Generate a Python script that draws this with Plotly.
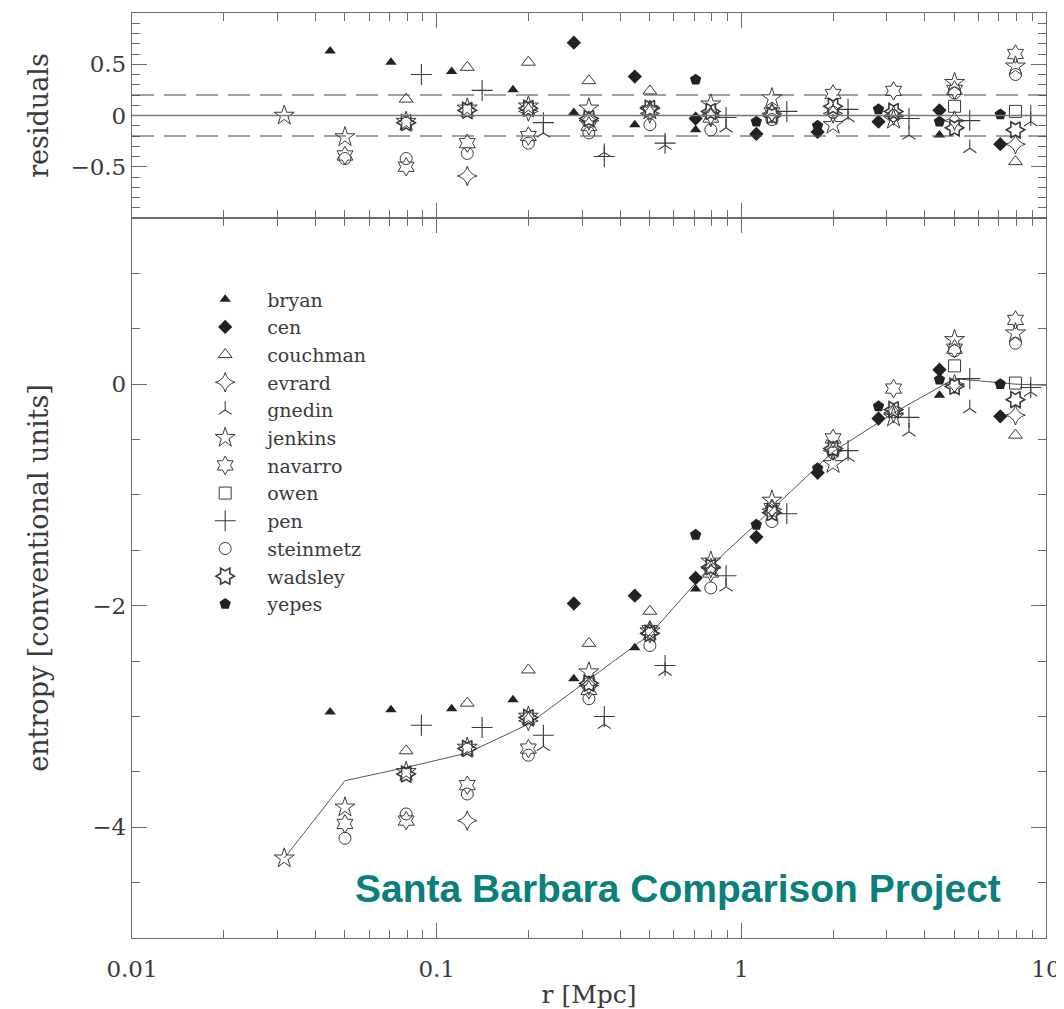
import plotly.graph_objects as go

# ---------------- data ----------------
# shell radii [Mpc]
r_std = [0.0316, 0.050, 0.0794, 0.126, 0.200, 0.316, 0.501, 0.794, 1.26, 2.00, 3.16, 5.01, 7.94]

bryan_r = [0.0447, 0.0708, 0.112, 0.178, 0.282, 0.447, 0.708, 4.47]
bryan_s = [-2.96, -2.94, -2.93, -2.85, -2.66, -2.38, -1.85, -0.10]
bryan_res = [0.63, 0.52, 0.43, 0.25, 0.03, -0.09, -0.14, -0.19]

cen_r = [0.282, 0.447, 0.708, 1.12, 1.78, 2.82, 4.47, 7.08]
cen_s = [-1.98, -1.91, -1.75, -1.38, -0.80, -0.31, 0.13, -0.29]
cen_res = [0.71, 0.38, -0.03, -0.18, -0.16, -0.06, 0.05, -0.28]

couchman_r = [0.0794, 0.126, 0.200, 0.316, 0.501, 7.94]
couchman_s = [-3.31, -2.88, -2.58, -2.34, -2.05, -0.46]
couchman_res = [0.16, 0.47, 0.52, 0.34, 0.24, -0.45]

evrard_r = [0.126, 0.200, 0.316, 0.501, 0.794, 1.26, 2.00, 3.16, 5.01, 7.94]
evrard_s = [-3.94, -3.04, -2.72, -2.25, -1.66, -1.13, -0.60, -0.26, 0.00, -0.28]
evrard_res = [-0.59, 0.04, -0.05, 0.02, 0.00, 0.02, 0.02, 0.00, -0.05, -0.28]

gnedin_r = [0.224, 0.355, 0.562, 0.891, 2.24, 3.55, 5.62, 8.91]
gnedin_s = [-3.27, -3.07, -2.59, -1.83, -0.66, -0.43, -0.22, -0.07]
gnedin_res = [-0.17, -0.36, -0.29, -0.12, -0.02, -0.19, -0.32, -0.06]

jenkins_r = r_std
jenkins_s = [-4.28, -3.82, -3.50, -3.28, -3.00, -2.60, -2.23, -1.60, -1.05, -0.72, -0.30, 0.40, 0.46]
jenkins_res = [0.00, -0.21, -0.06, 0.07, 0.09, 0.07, 0.05, 0.11, 0.17, -0.09, -0.04, 0.32, 0.48]

navarro_r = r_std[1:]
navarro_s = [-3.97, -3.94, -3.62, -3.29, -2.76, -2.22, -1.70, -1.12, -0.49, -0.04, 0.32, 0.58]
navarro_res = [-0.39, -0.50, -0.27, -0.20, -0.10, 0.05, -0.02, 0.03, 0.21, 0.24, 0.25, 0.60]

owen_r = [5.01, 7.94]
owen_s = [0.165, 0.01]
owen_res = [0.09, 0.04]

pen_r = [0.0891, 0.141, 0.224, 0.355, 0.562, 0.891, 1.41, 2.24, 3.55, 5.62, 8.91]
pen_s = [-3.08, -3.10, -3.17, -3.00, -2.54, -1.73, -1.17, -0.60, -0.30, 0.05, -0.03]
pen_res = [0.40, 0.245, -0.07, -0.40, -0.27, -0.02, 0.04, 0.06, -0.03, -0.05, 0.00]

steinmetz_r = r_std[1:]
steinmetz_s = [-4.10, -3.88, -3.70, -3.35, -2.84, -2.36, -1.84, -1.24, -0.62, -0.25, 0.30, 0.37]
steinmetz_res = [-0.42, -0.42, -0.37, -0.27, -0.17, -0.09, -0.14, -0.04, 0.03, 0.00, 0.22, 0.40]

wadsley_r = r_std[2:]
wadsley_s = [-3.52, -3.29, -3.01, -2.70, -2.25, -1.65, -1.16, -0.58, -0.23, -0.02, -0.14]
wadsley_res = [-0.07, 0.05, 0.07, -0.03, 0.07, 0.04, 0.00, 0.09, 0.04, -0.12, -0.14]

yepes_r = [0.708, 1.12, 1.78, 2.82, 4.47, 7.08]
yepes_s = [-1.36, -1.27, -0.76, -0.20, 0.04, 0.00]
yepes_res = [0.35, -0.06, -0.10, 0.06, -0.06, 0.01]

# reference profile (solid line)
ref_r = r_std + [10.0]
ref_s = [-4.28, -3.58, -3.46, -3.33, -3.07, -2.67, -2.26, -1.64, -1.13, -0.61, -0.26, 0.05, 0.00, -0.01]

x_tick_vals = [0.01, 0.1, 1, 10]
x_tick_text = ["0.01", "0.1", "1", "10"]
y_tick_vals = [0, -2, -4]
y_tick_text = ["0", "\u22122", "\u22124"]
res_tick_vals = [0.5, 0, -0.5]
res_tick_text = ["0.5", "0", "\u22120.5"]

# ---------------- styling ----------------
INK = "#222222"
OPEN = "#3a3a3a"
FONT = "DejaVu Serif"
AXC = "#6a6a6a"
TXT = "#3a3a3a"

codes = [
    ("bryan", bryan_r, bryan_s, bryan_res, "triangle-up", 10, INK, 0),
    ("cen", cen_r, cen_s, cen_res, "diamond", 11, INK, 0),
    ("couchman", couchman_r, couchman_s, couchman_res, "triangle-up-open", 12, OPEN, 1),
    ("evrard", evrard_r, evrard_s, evrard_res, "star-diamond-open", 14, OPEN, 1),
    ("gnedin", gnedin_r, gnedin_s, gnedin_res, "y-up-open", 11, OPEN, 1.1),
    ("jenkins", jenkins_r, jenkins_s, jenkins_res, "star-open", 15, OPEN, 1),
    ("navarro", navarro_r, navarro_s, navarro_res, "hexagram-open", 14, OPEN, 1),
    ("owen", owen_r, owen_s, owen_res, "square-open", 12, OPEN, 1),
    ("pen", pen_r, pen_s, pen_res, "cross-thin-open", 15, OPEN, 1.1),
    ("steinmetz", steinmetz_r, steinmetz_s, steinmetz_res, "circle-open", 12, OPEN, 1),
    ("wadsley", wadsley_r, wadsley_s, wadsley_res, "hexagram-open", 14, OPEN, 1.6),
    ("yepes", yepes_r, yepes_s, yepes_res, "pentagon", 12, INK, 0),
]

fig = go.Figure()

fig.add_trace(go.Scatter(x=ref_r, y=ref_s, mode="lines", line=dict(color="#555555", width=1),
                         showlegend=False, hoverinfo="skip", xaxis="x", yaxis="y"))

for name, rr, ss, rs, sym, size, col, lw in codes:
    angle = 30 if name == "wadsley" else 0
    mk = dict(symbol=sym, size=size, color=col, angle=angle,
              line=dict(color=col, width=lw))
    fig.add_trace(go.Scatter(x=rr, y=ss, mode="markers", name=name, marker=mk,
                             xaxis="x", yaxis="y"))
    fig.add_trace(go.Scatter(x=rr, y=rs, mode="markers", name=name, marker=mk,
                             showlegend=False, xaxis="x2", yaxis="y2"))

split = 720 / 925

axis_common = dict(showline=True, linecolor=AXC, linewidth=1.3, mirror="ticks",
                   ticks="inside", tickcolor=AXC, tickwidth=1.2, showgrid=False,
                   zeroline=False, automargin=False,
                   tickfont=dict(family=FONT, size=23, color=TXT))

minor_x = dict(ticks="inside", ticklen=8, tickcolor=AXC, tickwidth=1.2, showgrid=False,
               tickvals=[m * d for d in (0.01, 0.1, 1) for m in range(2, 10)])

# the page body has an 8px margin, so the figure is sized/offset to compensate
fig.update_layout(
    width=1056, height=1001,
    margin=dict(l=124, r=18, t=5, b=71),
    paper_bgcolor="white", plot_bgcolor="white",
    showlegend=True,
    legend=dict(x=0.056, y=0.711, xanchor="left", yanchor="top",
                font=dict(family=FONT, size=19, color=TXT),
                bgcolor="rgba(0,0,0,0)", itemwidth=74, tracegroupgap=0),
    xaxis=dict(type="log", range=[-2, 1], domain=[0, 1], anchor="y",
               tickmode="array", tickvals=x_tick_vals, ticktext=x_tick_text, ticklen=15,
               ticklabelstandoff=10, minor=minor_x,
               title=dict(text="r [Mpc]", font=dict(family=FONT, size=25, color=TXT),
                          standoff=10),
               **axis_common),
    yaxis=dict(range=[-5, 1.5], domain=[0, split], anchor="x",
               tickmode="array", tickvals=y_tick_vals, ticktext=y_tick_text, ticklen=15,
               minor=dict(ticks="inside", ticklen=8, dtick=0.5, tick0=0, tickcolor=AXC,
                          tickwidth=1.2, showgrid=False),
               title=dict(text="entropy [conventional units]",
                          font=dict(family=FONT, size=27, color=TXT), standoff=35),
               **axis_common),
    xaxis2=dict(type="log", range=[-2, 1], domain=[0, 1], anchor="y2", matches="x",
                tickmode="array", tickvals=x_tick_vals, showticklabels=False, ticklen=15,
                minor=minor_x, **axis_common),
    yaxis2=dict(range=[-1, 1], domain=[split, 1], anchor="x2",
                tickmode="array", tickvals=res_tick_vals, ticktext=res_tick_text, ticklen=15,
                minor=dict(ticks="inside", ticklen=8, dtick=0.1, tick0=0, tickcolor=AXC,
                           tickwidth=1.2, showgrid=False),
                title=dict(text="residuals", font=dict(family=FONT, size=27, color=TXT),
                           standoff=13),
                **axis_common),
)

# zero line and +-0.2 dashed band in the residual panel
fig.add_shape(type="line", xref="x2 domain", yref="y2", x0=0, x1=1, y0=0, y1=0,
              line=dict(color="#777777", width=1.5))
for yv in (0.2, -0.2):
    fig.add_shape(type="line", xref="x2 domain", yref="y2", x0=0, x1=1, y0=yv, y1=yv,
                  line=dict(color="#444444", width=1.2, dash="22px,10px"))

fig.add_annotation(text="<b>Santa Barbara Comparison Project</b>", xref="paper", yref="paper",
                   x=0.597, y=0.053, xanchor="center", yanchor="middle", showarrow=False,
                   font=dict(family="Liberation Sans", size=39, color="#0b7f7b"))

fig.write_html("out.html")
